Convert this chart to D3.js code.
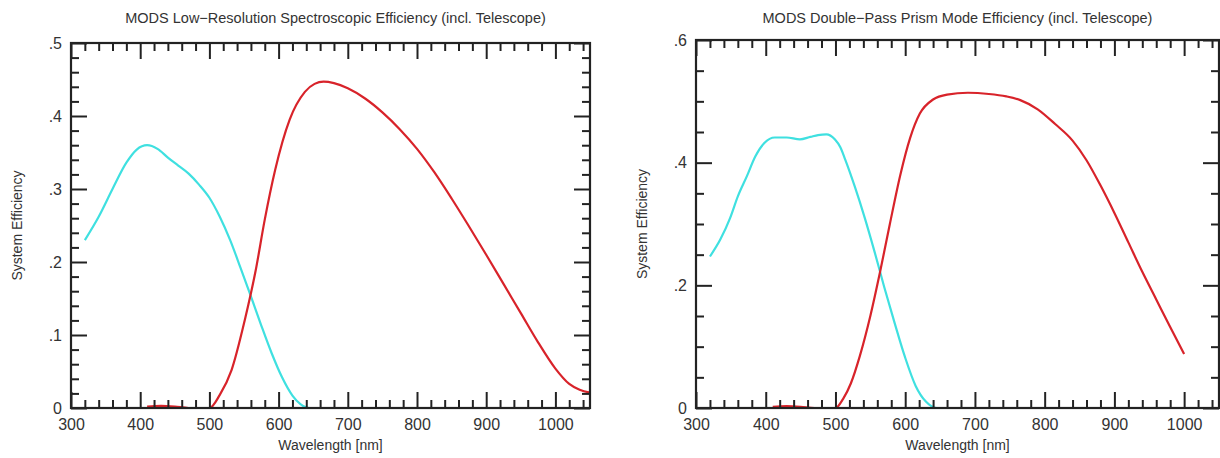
<!DOCTYPE html>
<html>
<head>
<meta charset="utf-8">
<script src="https://cdn.jsdelivr.net/npm/d3@7"></script>
<style>
  body { margin: 0; background: #fff; }
  svg { font-family: "Liberation Sans", Arial, Helvetica, sans-serif; }
</style>
</head>
<body>
<svg width="1220" height="458"></svg>
<script>
// Left panel: low-resolution grating efficiency
const lowBlueNm  = [320, 340, 360, 380, 395, 410, 425, 440, 455, 470, 485, 500, 515, 530, 545, 560, 575, 590, 605, 620, 632, 645, 700, 740];
const lowBlueEff = [0.230, 0.262, 0.300, 0.336, 0.354, 0.360, 0.355, 0.343, 0.332, 0.321, 0.306, 0.288, 0.262, 0.230, 0.192, 0.153, 0.113, 0.075, 0.042, 0.017, 0.005, 0.0, 0.0, 0.0];
const lowRedNm   = [410, 430, 450, 470, 500, 515, 532, 551, 567, 580, 595, 616, 638, 652, 665, 680, 700, 725, 750, 775, 800, 825, 850, 875, 900, 925, 950, 975, 1000, 1020, 1035, 1050];
const lowRedEff  = [0.002, 0.003, 0.002, 0.0, 0.0, 0.018, 0.052, 0.120, 0.189, 0.258, 0.326, 0.395, 0.433, 0.444, 0.447, 0.445, 0.438, 0.424, 0.405, 0.382, 0.355, 0.323, 0.287, 0.249, 0.210, 0.170, 0.130, 0.090, 0.054, 0.033, 0.025, 0.021];

// Right panel: double-pass prism mode efficiency
const prismBlueNm  = [320, 335, 349, 360, 373, 385, 398, 413, 430, 449, 464, 475, 487, 499, 507, 514, 528, 542, 556, 570, 585, 600, 615, 630, 645, 660, 740];
const prismBlueEff = [0.247, 0.275, 0.310, 0.345, 0.378, 0.410, 0.432, 0.441, 0.441, 0.438, 0.442, 0.445, 0.446, 0.438, 0.425, 0.405, 0.360, 0.310, 0.255, 0.197, 0.138, 0.082, 0.036, 0.010, 0.0, 0.0, 0.0];
const prismRedNm   = [410, 430, 450, 470, 500, 511, 522, 535, 550, 564, 578, 593, 607, 621, 640, 660, 690, 720, 745, 765, 790, 815, 840, 860, 880, 900, 920, 940, 960, 980, 1000];
const prismRedEff  = [0.002, 0.003, 0.002, 0.0, 0.0, 0.015, 0.040, 0.085, 0.150, 0.222, 0.300, 0.380, 0.440, 0.480, 0.503, 0.511, 0.514, 0.512, 0.508, 0.502, 0.487, 0.463, 0.436, 0.404, 0.363, 0.318, 0.270, 0.222, 0.177, 0.132, 0.088];

// Tick labels
const xMajor = [300, 400, 500, 600, 700, 800, 900, 1000];
const lowYMajor = [0, 0.1, 0.2, 0.3, 0.4, 0.5];
const prismYMajor = [0, 0.2, 0.4, 0.6];

const titles = [
  "MODS Low\u2212Resolution Spectroscopic Efficiency (incl. Telescope)",
  "MODS Double\u2212Pass Prism Mode Efficiency (incl. Telescope)"
];

const BLUE = "#3fe0e0", RED = "#d8232a", INK = "#222";

const svg = d3.select("svg");

const yFmt = d => d === 0 ? "0" : d3.format(".1f")(d).replace(/^0/, "");

function drawPanel(opt) {
  const x = d3.scaleLinear().domain([300, 1050]).range([opt.left, opt.right]);
  const y = d3.scaleLinear().domain([0, opt.yMax]).range([opt.bottom, opt.top]);
  const g = svg.append("g");

  const xMinor = d3.range(300, 1051, 20).filter(v => v % 100 !== 0);
  const yMinor = d3.range(0, opt.yMax + 1e-9, opt.yMinorStep)
    .filter(v => !opt.yMajor.some(m => Math.abs(m - v) < 1e-9));

  // curves
  const line = d3.line()
    .x(d => x(d[0]))
    .y(d => y(d[1]))
    .curve(d3.curveMonotoneX);

  opt.series.forEach(s => {
    g.append("path")
      .datum(d3.zip(s.nm, s.eff))
      .attr("fill", "none")
      .attr("stroke", s.color)
      .attr("stroke-width", 2.2)
      .attr("d", line);
  });

  // axes (ticks drawn inward)
  const axes = [
    [d3.axisBottom(x).tickValues(xMajor).tickSize(-16).tickPadding(11).tickFormat(d3.format("d")), `translate(0,${opt.bottom})`],
    [d3.axisBottom(x).tickValues(xMinor).tickSize(-8).tickFormat(""), `translate(0,${opt.bottom})`],
    [d3.axisTop(x).tickValues(xMajor).tickSize(-16).tickFormat(""), `translate(0,${opt.top})`],
    [d3.axisTop(x).tickValues(xMinor).tickSize(-8).tickFormat(""), `translate(0,${opt.top})`],
    [d3.axisLeft(y).tickValues(opt.yMajor).tickSize(-16).tickPadding(9).tickFormat(yFmt), `translate(${opt.left},0)`],
    [d3.axisLeft(y).tickValues(yMinor).tickSize(-8).tickFormat(""), `translate(${opt.left},0)`],
    [d3.axisRight(y).tickValues(opt.yMajor).tickSize(-16).tickFormat(""), `translate(${opt.right},0)`],
    [d3.axisRight(y).tickValues(yMinor).tickSize(-8).tickFormat(""), `translate(${opt.right},0)`]
  ];
  axes.forEach(([ax, tr]) => {
    const a = g.append("g").attr("transform", tr).call(ax);
    a.select(".domain").remove();
    a.selectAll("line").attr("stroke", INK).attr("stroke-width", 2);
    a.selectAll("text").attr("fill", "#333").style("font-size", "16px");
  });

  // frame
  g.append("rect")
    .attr("x", opt.left).attr("y", opt.top)
    .attr("width", opt.right - opt.left).attr("height", opt.bottom - opt.top)
    .attr("fill", "none").attr("stroke", INK).attr("stroke-width", 2.2);

  const cx = (opt.left + opt.right) / 2;
  g.append("text")
    .attr("x", cx + opt.titleShift).attr("y", 23)
    .attr("text-anchor", "middle")
    .attr("fill", "#333")
    .style("font-size", "14.5px")
    .text(opt.title);

  g.append("text")
    .attr("x", cx).attr("y", 450)
    .attr("text-anchor", "middle")
    .attr("fill", "#333")
    .style("font-size", "14px")
    .text("Wavelength [nm]");

  g.append("text")
    .attr("transform", `translate(${opt.yLabelX},${(opt.top + opt.bottom) / 2}) rotate(-90)`)
    .attr("text-anchor", "middle")
    .attr("fill", "#333")
    .style("font-size", "14px")
    .text("System Efficiency");
}

drawPanel({
  left: 71, right: 590, top: 43, bottom: 408,
  yMax: 0.5, yMajor: lowYMajor, yMinorStep: 0.02,
  yLabelX: 22, title: titles[0], titleShift: 5,
  series: [
    { nm: lowBlueNm, eff: lowBlueEff, color: BLUE },
    { nm: lowRedNm, eff: lowRedEff, color: RED }
  ]
});

drawPanel({
  left: 696, right: 1219, top: 40, bottom: 408,
  yMax: 0.6, yMajor: prismYMajor, yMinorStep: 0.05,
  yLabelX: 647, title: titles[1], titleShift: 0,
  series: [
    { nm: prismBlueNm, eff: prismBlueEff, color: BLUE },
    { nm: prismRedNm, eff: prismRedEff, color: RED }
  ]
});
</script>
</body>
</html>
